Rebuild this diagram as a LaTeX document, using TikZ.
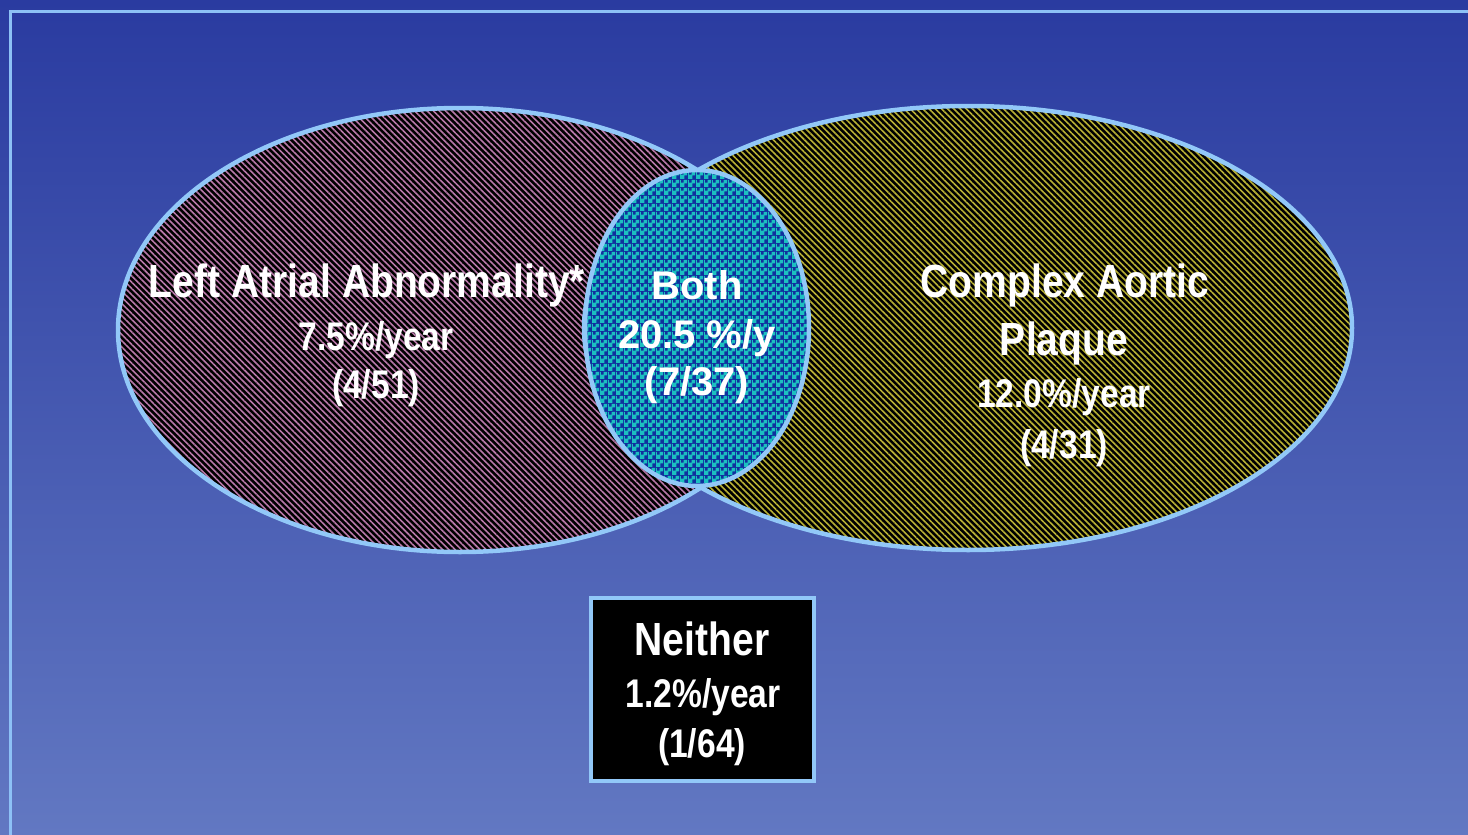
\documentclass[tikz,border=0pt]{standalone}
\usepackage{fontspec}
\setmainfont{Liberation Sans}
\newfontfamily\narrowfont[FakeStretch=0.84]{Liberation Sans}
\usetikzlibrary{shapes.geometric,patterns.meta}
\definecolor{bgtop}{HTML}{2A3BA0}
\definecolor{bgbot}{HTML}{6278C2}
\definecolor{frameblue}{HTML}{8DC1F6}
\definecolor{edgeblue}{HTML}{92C8F8}
\definecolor{stripepink}{HTML}{B878A8}
\definecolor{stripeyellow}{HTML}{B8B034}
\definecolor{checkcyan}{HTML}{1CC0C0}
\definecolor{checkblue}{HTML}{10309E}
\pgfdeclarepattern{
  name=mychecker,
  type=uncolored,
  bottom left={\pgfpoint{0pt}{0pt}},
  top right={\pgfpoint{8pt}{8pt}},
  tile size={\pgfpoint{8pt}{8pt}},
  code={
    \pgfpathrectangle{\pgfpoint{0pt}{0pt}}{\pgfpoint{5pt}{5pt}}
    \pgfpathrectangle{\pgfpoint{4pt}{4pt}}{\pgfpoint{4pt}{4pt}}
    \pgfpathrectangle{\pgfpoint{0pt}{0pt}}{\pgfpoint{1pt}{8pt}}
    \pgfusepath{fill}
  }
}
\tikzset{
  setshape/.style={ellipse, draw=edgeblue, line width=4.5pt, inner sep=0pt},
  pinkfill/.style={preaction={fill=black}, pattern={Lines[angle=-45,distance=4.4pt,line width=1.6pt]}, pattern color=stripepink},
  yellowfill/.style={preaction={fill=black}, pattern={Lines[angle=-45,distance=4.4pt,line width=1.6pt]}, pattern color=stripeyellow},
  checkfill/.style={preaction={fill=checkblue}, pattern=mychecker, pattern color=checkcyan},
  bigtxt/.style={anchor=base, text=white, inner sep=0pt, font=\narrowfont\bfseries\fontsize{46.5}{50}\selectfont},
  smalltxt/.style={anchor=base, text=white, inner sep=0pt, font=\narrowfont\bfseries\fontsize{40}{44}\selectfont},
  centertxt/.style={anchor=base, text=white, inner sep=0pt, font=\bfseries\fontsize{40}{44}\selectfont},
  frameline/.style={draw=frameblue, line width=3pt}
}
\begin{document}
\begin{tikzpicture}[x=1pt,y=-1pt]
\useasboundingbox (0,0) rectangle (1468,835);
\shade[top color=bgtop, bottom color=bgbot] (0,0) rectangle (1468,835);
\coordinate (ftl) at (10,11);
\coordinate (ftr) at (1470,11);
\coordinate (fbl) at (10,837);
\draw[frameline] (ftr) -- (ftl) -- (fbl);
% sets
\node[setshape, pinkfill, minimum width=684pt, minimum height=444pt] (left) at (460,330) {};
\node[setshape, yellowfill, minimum width=768pt, minimum height=444pt] (right) at (968,328) {};
\node[setshape, checkfill, minimum width=224pt, minimum height=316pt] (both) at (697,328) {};
% neither box
\node[draw=edgeblue, line width=4pt, fill=black, minimum width=223pt, minimum height=183pt, inner sep=0pt] (neither) at (702.5,689.5) {};
% texts
\node[bigtxt] (l1) at (367,297) {Left Atrial Abnormality*};
\node[smalltxt] (l2) at (376,350) {7.5\%/year};
\node[smalltxt] (l3) at (376,398) {(4/51)};
\node[bigtxt] (r1) at (1065,297) {Complex Aortic};
\node[bigtxt] (r2) at (1064,355) {Plaque};
\node[smalltxt] (r3) at (1064,407) {12.0\%/year};
\node[smalltxt] (r4) at (1064,458) {(4/31)};
\node[centertxt] (c1) at (697,299) {Both};
\node[centertxt] (c2) at (697,348) {20.5 \%/y};
\node[centertxt] (c3) at (697,395) {(7/37)};
\node[bigtxt] (n1) at (702,655) {Neither};
\node[smalltxt] (n2) at (703,707) {1.2\%/year};
\node[smalltxt] (n3) at (702,757) {(1/64)};
\end{tikzpicture}
\end{document}
